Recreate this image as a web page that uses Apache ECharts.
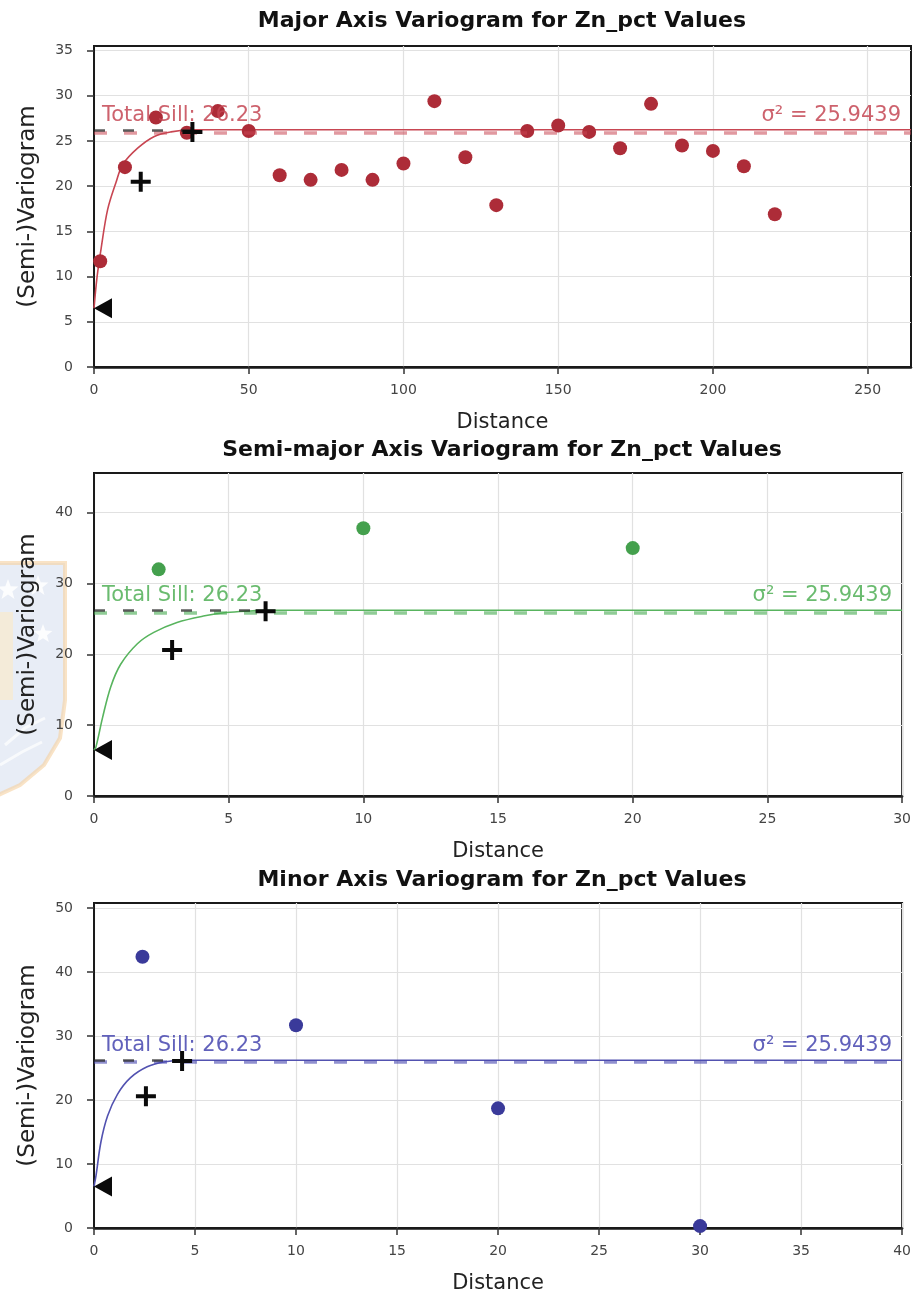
<!DOCTYPE html>
<html>
<head>
<meta charset="utf-8">
<script src="https://cdn.jsdelivr.net/npm/echarts@6/dist/echarts.min.js"></script>
<style>
  html, body { margin: 0; padding: 0; background: #ffffff; }
  #chart { width: 914px; height: 1295px; }
</style>
</head>
<body>
<div id="chart"></div>
<script>
// ---- Experimental variogram values (lag distance, semivariance) ----
const majorLags  = [2, 10, 20, 30, 40, 50, 60, 70, 80, 90, 100, 110, 120, 130, 140, 150, 160, 170, 180, 190, 200, 210, 220];
const majorGamma = [11.7, 22.1, 27.6, 25.9, 28.3, 26.1, 21.2, 20.7, 21.8, 20.7, 22.5, 29.4, 23.2, 17.9, 26.1, 26.7, 26.0, 24.2, 29.1, 24.5, 23.9, 22.2, 16.9];

const semiLags  = [2.4, 10, 20];
const semiGamma = [32.0, 37.8, 35.0];

const minorLags  = [2.4, 10, 20, 30];
const minorGamma = [42.4, 31.7, 18.7, 0.3];

// ---- Fitted model curves (distance, model semivariance) ----
const majorCurveX = [0, 1, 2.3, 4.4, 7.1, 9.3, 14.1, 19.5, 24.9, 31.8, 264];
const majorCurveY = [6.5, 10.0, 13.1, 17.4, 20.4, 22.4, 24.2, 25.5, 26.0, 26.23, 26.23];

const semiCurveX = [0, 0.07, 0.32, 0.62, 0.99, 1.61, 2.22, 3.08, 4.06, 4.91, 5.9, 6.37, 30];
const semiCurveY = [6.5, 6.9, 11.1, 15.4, 18.6, 21.5, 23.1, 24.5, 25.4, 25.9, 26.15, 26.23, 26.23];

const minorCurveX = [0, 0.1, 0.34, 0.67, 1.16, 1.81, 2.63, 3.45, 4.36, 40];
const minorCurveY = [6.5, 8.2, 13.4, 17.5, 20.9, 23.5, 25.2, 25.95, 26.23, 26.23];

// ---- Model parameters ----
const totalSill = 26.23;
const variance  = 25.9439;
const nugget    = 6.5;
const majorRange = 31.8;
const semiRange  = 6.37;
const minorRange = 4.36;

// ---- Range markers (+) ----
const majorRangeMarks = [[31.8, 26.0], [15.1, 20.5]];
const semiRangeMarks  = [[6.37, 26.1], [2.9, 20.6]];
const minorRangeMarks = [[4.36, 26.1], [2.57, 20.6]];

// ---- Axis tick labels ----
const majorXTicks = [0, 50, 100, 150, 200, 250];
const majorYTicks = [0, 5, 10, 15, 20, 25, 30, 35];
const semiXTicks  = [0, 5, 10, 15, 20, 25, 30];
const semiYTicks  = [0, 10, 20, 30, 40];
const minorXTicks = [0, 5, 10, 15, 20, 25, 30, 35, 40];
const minorYTicks = [0, 10, 20, 30, 40, 50];

// ---- Titles ----
const titles = [
  'Major Axis Variogram for Zn_pct Values',
  'Semi-major Axis Variogram for Zn_pct Values',
  'Minor Axis Variogram for Zn_pct Values'
];

const FONT = 'DejaVu Sans';

const palettes = {
  red:   { point: '#ad2c38', line: '#c84652', dash: 'rgba(200,70,82,0.55)', text: 'rgba(196,70,84,0.85)' },
  green: { point: '#44a04d', line: '#58b45e', dash: 'rgba(70,170,80,0.6)',  text: 'rgba(90,180,95,0.9)' },
  blue:  { point: '#3a3a9a', line: '#5252b0', dash: 'rgba(70,70,175,0.6)',  text: 'rgba(80,80,180,0.9)' }
};

const panels = [
  { title: titles[0], lags: majorLags, gamma: majorGamma, cx: majorCurveX, cy: majorCurveY,
    marks: majorRangeMarks, range: majorRange, xTicks: majorXTicks, yTicks: majorYTicks,
    xMax: 264, xStep: 50, yMax: 35.5, yStep: 5, top: 46, height: 321, titleY: 21, pal: palettes.red },
  { title: titles[1], lags: semiLags, gamma: semiGamma, cx: semiCurveX, cy: semiCurveY,
    marks: semiRangeMarks, range: semiRange, xTicks: semiXTicks, yTicks: semiYTicks,
    xMax: 30, xStep: 5, yMax: 45.6, yStep: 10, top: 473, height: 323, titleY: 450, pal: palettes.green },
  { title: titles[2], lags: minorLags, gamma: minorGamma, cx: minorCurveX, cy: minorCurveY,
    marks: minorRangeMarks, range: minorRange, xTicks: minorXTicks, yTicks: minorYTicks,
    xMax: 40, xStep: 5, yMax: 50.8, yStep: 10, top: 903, height: 326, titleY: 880, pal: palettes.blue }
];

const PLUS = 'path://M8,0H12V8H20V12H12V20H8V12H0V8H8Z';
const LEFT_TRI = 'path://M0,10L20,0L20,20Z';

const grids = [], xAxes = [], yAxes = [], series = [], graphics = [];

panels.forEach((p, i) => {
  grids.push({
    left: 94, right: 3, top: p.top, height: p.height,
    show: true, borderColor: '#1a1a1a', borderWidth: 2, backgroundColor: 'transparent'
  });

  xAxes.push({
    gridIndex: i, type: 'value', min: 0, max: p.xMax, interval: p.xStep,
    axisLine: { show: true, onZero: false, lineStyle: { color: '#1a1a1a', width: 2.5 } },
    axisTick: { show: true, length: 7, customValues: p.xTicks, lineStyle: { color: '#333', width: 1.5 } },
    axisLabel: { customValues: p.xTicks, color: '#444', fontSize: 14, fontFamily: FONT, margin: 16,
                 formatter: v => (v % p.xStep === 0 ? String(v) : '') },
    splitLine: { show: true, lineStyle: { color: '#e1e1e1', width: 1.2 } },
    name: 'Distance', nameLocation: 'middle', nameGap: 45,
    nameTextStyle: { fontSize: 21, fontFamily: FONT, color: '#222' }
  });

  yAxes.push({
    gridIndex: i, type: 'value', min: 0, max: p.yMax, interval: p.yStep,
    axisLine: { show: true, onZero: false, lineStyle: { color: '#1a1a1a', width: 2 } },
    axisTick: { show: true, length: 7, customValues: p.yTicks, lineStyle: { color: '#333', width: 1.5 } },
    axisLabel: { customValues: p.yTicks, color: '#444', fontSize: 14, fontFamily: FONT, margin: 21,
                 formatter: v => (v % p.yStep === 0 ? String(v) : '') },
    splitLine: { show: true, lineStyle: { color: '#e1e1e1', width: 1.2 } },
    name: '(Semi-)Variogram', nameLocation: 'middle', nameGap: 54,
    nameTextStyle: { fontSize: 23, fontFamily: FONT, color: '#222' }
  });

  // model curve, with sill and variance reference lines
  series.push({
    type: 'line', xAxisIndex: i, yAxisIndex: i, z: 2,
    data: p.cx.map((x, k) => [x, p.cy[k]]),
    showSymbol: false, smooth: 0.35,
    lineStyle: { color: p.pal.line, width: 1.6 },
    markLine: {
      silent: true, symbol: ['none', 'none'], animation: false,
      data: [
        {
          yAxis: variance,
          lineStyle: { type: [13, 17], width: 3.5, color: p.pal.dash },
          label: { show: true, position: 'insideEndTop', distance: [10, 6],
                   formatter: 'σ² = ' + variance, color: p.pal.text, fontSize: 21, fontFamily: FONT }
        },
        [
          { coord: [0, totalSill],
            lineStyle: { type: [11, 18], width: 2.5, color: 'rgba(35,35,35,0.75)' },
            label: { show: true, position: 'insideStartTop', distance: [8, 4],
                     formatter: 'Total Sill: ' + totalSill.toFixed(2), color: p.pal.text, fontSize: 21, fontFamily: FONT } },
          { coord: [p.range, totalSill] }
        ]
      ]
    }
  });

  // experimental points
  series.push({
    type: 'scatter', xAxisIndex: i, yAxisIndex: i, z: 3,
    data: p.lags.map((x, k) => [x, p.gamma[k]]),
    symbol: 'circle', symbolSize: 14,
    itemStyle: { color: p.pal.point, opacity: 1 }
  });

  // range markers
  series.push({
    type: 'scatter', xAxisIndex: i, yAxisIndex: i, z: 5,
    data: p.marks, symbol: PLUS, symbolSize: 20,
    itemStyle: { color: '#0a0a0a', opacity: 1 }
  });

  // nugget marker at distance zero
  series.push({
    type: 'scatter', xAxisIndex: i, yAxisIndex: i, z: 5, clip: false,
    data: [[0, nugget]], symbol: LEFT_TRI, symbolSize: [18, 20], symbolOffset: [9, 0],
    itemStyle: { color: '#0a0a0a', opacity: 1 }
  });

  graphics.push({
    type: 'text', x: 502, y: p.titleY, z: 10,
    style: { text: p.title, align: 'center', verticalAlign: 'middle',
             font: 'bold 22px "DejaVu Sans"', fill: '#111111' }
  });
});

// faint crest behind the middle panel's axis title
function starPoints(cx, cy, R) {
  const pts = [];
  for (let k = 0; k < 10; k++) {
    const a = -Math.PI / 2 + k * Math.PI / 5;
    const rr = (k % 2) ? R * 0.42 : R;
    pts.push([cx + rr * Math.cos(a), cy + rr * Math.sin(a)]);
  }
  return pts;
}
const crest = {
  type: 'group', z: -10, silent: true,
  children: [
    { type: 'polygon', shape: { points: [[-6, 563], [65, 563], [65, 700], [60, 738], [44, 765], [20, 785], [-6, 797]] },
      style: { fill: 'rgba(188,204,228,0.35)', stroke: 'rgba(245,208,160,0.6)', lineWidth: 4 } },
    { type: 'polygon', shape: { points: [[-6, 612], [13, 612], [13, 700], [-6, 700]] },
      style: { fill: 'rgba(250,234,205,0.7)' } },
    { type: 'polygon', shape: { points: starPoints(8, 590, 11) }, style: { fill: 'rgba(255,255,255,0.85)' } },
    { type: 'polygon', shape: { points: starPoints(38, 586, 11) }, style: { fill: 'rgba(255,255,255,0.85)' } },
    { type: 'polygon', shape: { points: starPoints(43, 634, 10) }, style: { fill: 'rgba(255,255,255,0.85)' } },
    { type: 'polyline', shape: { points: [[5, 745], [25, 728], [45, 718]] }, style: { stroke: 'rgba(255,255,255,0.7)', lineWidth: 3, fill: null } },
    { type: 'polyline', shape: { points: [[0, 765], [22, 752], [42, 742]] }, style: { stroke: 'rgba(255,255,255,0.7)', lineWidth: 3, fill: null } }
  ]
};
graphics.unshift(crest);

const chart = echarts.init(document.getElementById('chart'), null, { renderer: 'canvas' });
chart.setOption({
  backgroundColor: '#ffffff',
  animation: false,
  textStyle: { fontFamily: FONT },
  grid: grids,
  xAxis: xAxes,
  yAxis: yAxes,
  series: series,
  graphic: graphics
});
</script>
</body>
</html>
